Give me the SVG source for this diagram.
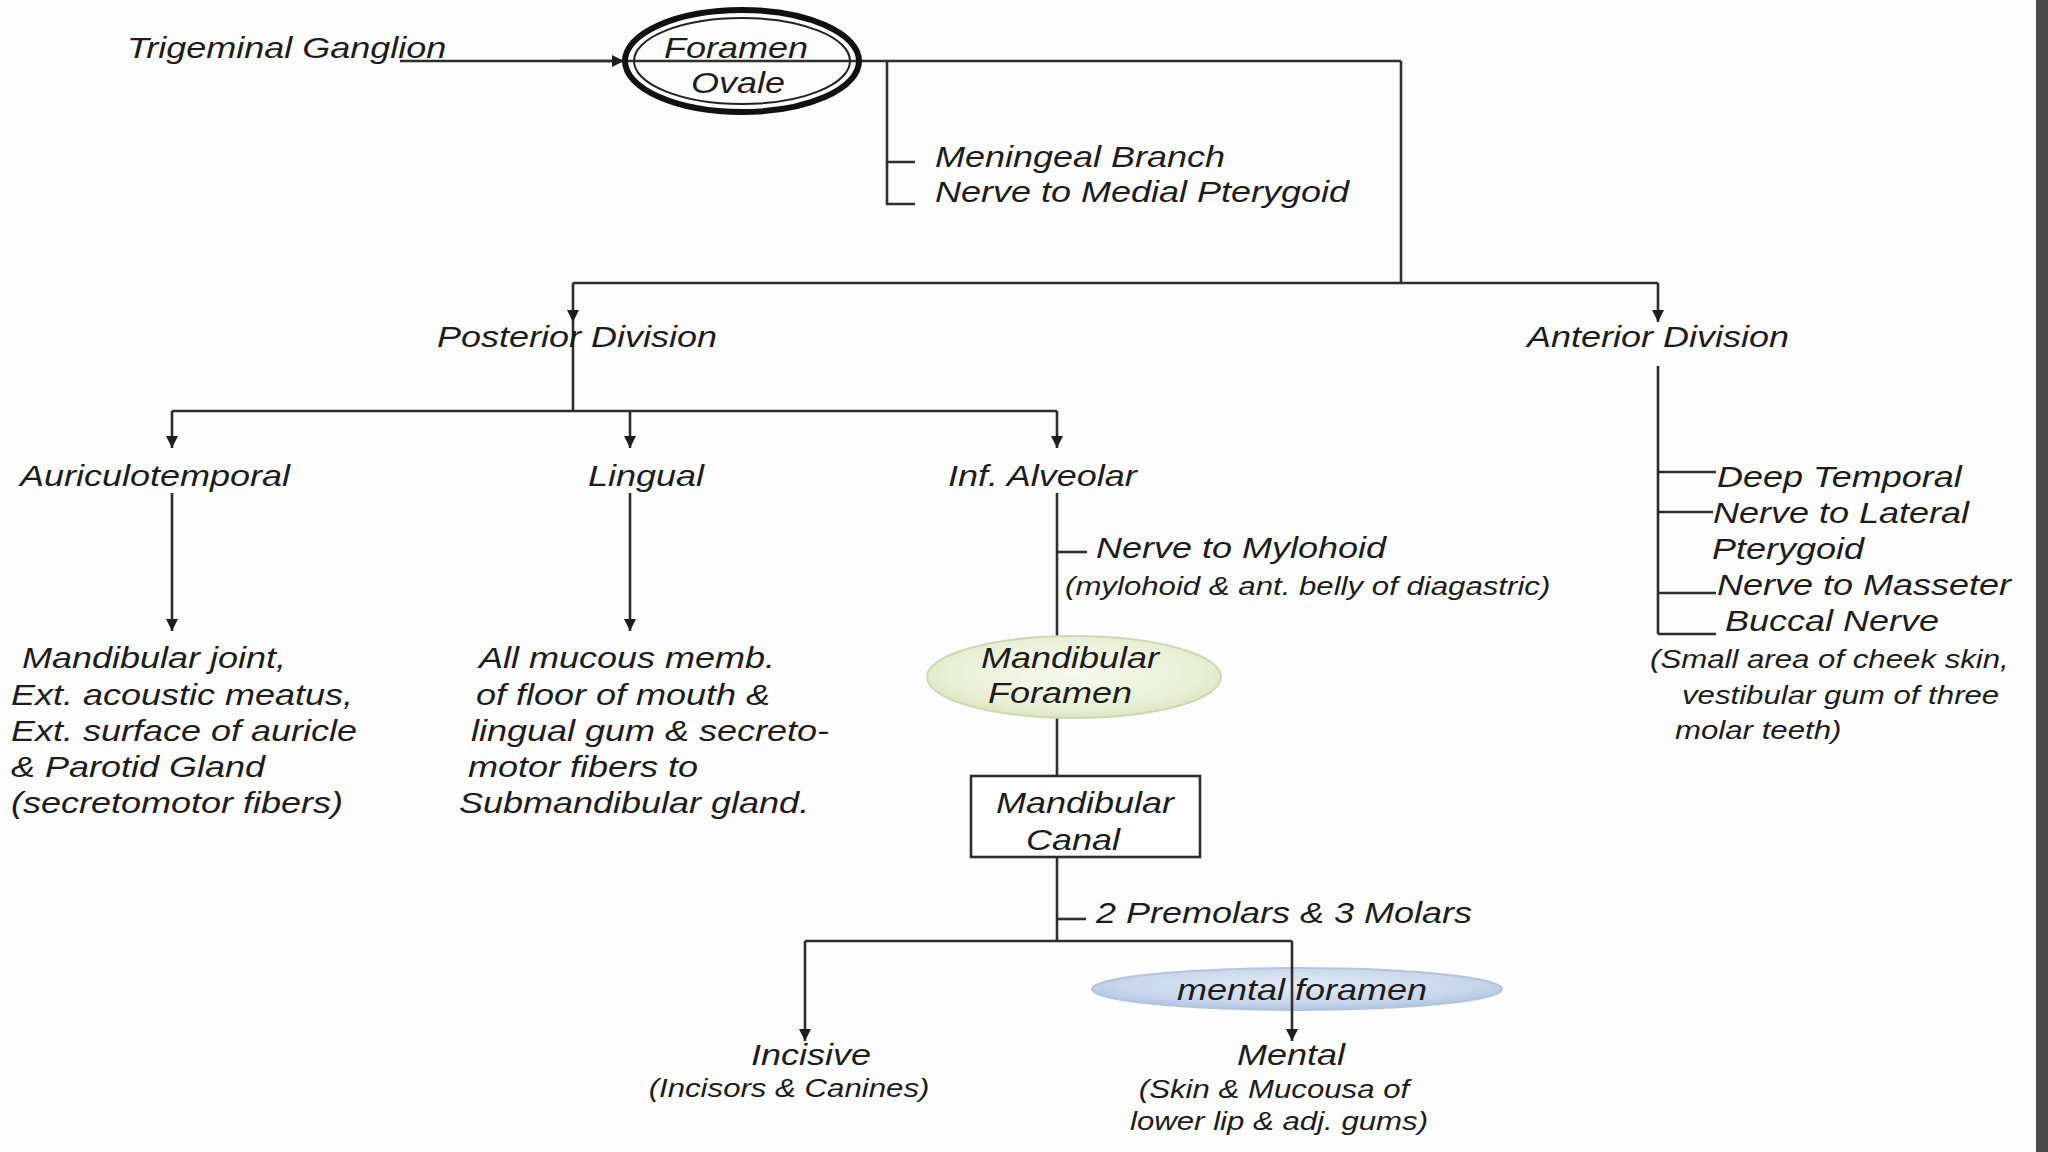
<svg xmlns="http://www.w3.org/2000/svg" width="2048" height="1152" viewBox="0 0 2048 1152">
<style>
text{font-family:"Liberation Sans",Arial,sans-serif;font-style:italic;fill:#1c1c1c}
.t{font-size:30px}
.s{font-size:26px}
.m{text-anchor:middle}
.ln{stroke:#2e2e2e;stroke-width:2.6;fill:none}
</style>
<defs>
<marker id="ah" markerUnits="userSpaceOnUse" markerWidth="14" markerHeight="16" refX="12" refY="7" orient="auto">
<path d="M0,1 L12,7 L0,13 Z" fill="#1e1e1e"/>
</marker>
<radialGradient id="gGreen" cx="50%" cy="45%" r="60%">
<stop offset="0" stop-color="#f7faee"/>
<stop offset="0.7" stop-color="#e9f0d6"/>
<stop offset="1" stop-color="#d5e2b6"/>
</radialGradient>
<radialGradient id="gBlue" cx="50%" cy="40%" r="60%">
<stop offset="0" stop-color="#e2eaf6"/>
<stop offset="0.7" stop-color="#c9d7ec"/>
<stop offset="1" stop-color="#aec3e0"/>
</radialGradient>
</defs>
<rect x="0" y="0" width="2048" height="1152" fill="#fdfdfd"/>
<rect x="2036" y="0" width="12" height="1152" fill="#4a4a4a"/>

<g id="node-mental-foramen">
<ellipse cx="1297" cy="989" rx="205" ry="21" fill="url(#gBlue)" stroke="#b3c4de" stroke-width="2"/>
<text class="t m" transform="translate(1302 1000) scale(1.2 1)">mental foramen</text>
</g>

<g id="connectors">
<line class="ln" x1="400" y1="61" x2="1401" y2="61"/>
<line class="ln" x1="560" y1="61" x2="624" y2="61" marker-end="url(#ah)"/>
<polyline class="ln" points="915,162 887,162 887,61"/>
<polyline class="ln" points="887,162 887,204 915,204"/>
<line class="ln" x1="1401" y1="61" x2="1401" y2="283"/>
<line class="ln" x1="573" y1="283" x2="1658" y2="283"/>
<line class="ln" x1="573" y1="283" x2="573" y2="322" marker-end="url(#ah)"/>
<line class="ln" x1="1658" y1="283" x2="1658" y2="322" marker-end="url(#ah)"/>
<line class="ln" x1="573" y1="322" x2="573" y2="411"/>
<line class="ln" x1="172" y1="411" x2="1057" y2="411"/>
<line class="ln" x1="172" y1="411" x2="172" y2="448" marker-end="url(#ah)"/>
<line class="ln" x1="630" y1="411" x2="630" y2="448" marker-end="url(#ah)"/>
<line class="ln" x1="1057" y1="411" x2="1057" y2="448" marker-end="url(#ah)"/>
<line class="ln" x1="172" y1="493" x2="172" y2="631" marker-end="url(#ah)"/>
<line class="ln" x1="630" y1="493" x2="630" y2="631" marker-end="url(#ah)"/>
<line class="ln" x1="1057" y1="493" x2="1057" y2="636"/>
<line class="ln" x1="1057" y1="552" x2="1087" y2="552"/>
<line class="ln" x1="1057" y1="718" x2="1057" y2="776"/>
<line class="ln" x1="1057" y1="857" x2="1057" y2="941"/>
<line class="ln" x1="1057" y1="919" x2="1086" y2="919"/>
<line class="ln" x1="805" y1="941" x2="1292" y2="941"/>
<line class="ln" x1="805" y1="941" x2="805" y2="1041" marker-end="url(#ah)"/>
<line class="ln" x1="1292" y1="941" x2="1292" y2="1041" marker-end="url(#ah)"/>
<line class="ln" x1="1658" y1="366" x2="1658" y2="634"/>
<line class="ln" x1="1658" y1="472" x2="1716" y2="472"/>
<line class="ln" x1="1658" y1="512" x2="1713" y2="512"/>
<line class="ln" x1="1658" y1="593" x2="1716" y2="593"/>
<line class="ln" x1="1658" y1="634" x2="1716" y2="634"/>
</g>

<g id="node-trigeminal-ganglion">
<text class="t" transform="translate(127 58) scale(1.2 1)">Trigeminal Ganglion</text>
</g>

<g id="node-foramen-ovale">
<ellipse cx="742" cy="61" rx="117" ry="51" fill="none" stroke="#111" stroke-width="6"/>
<ellipse cx="742" cy="61" rx="108" ry="43" fill="none" stroke="#222" stroke-width="2"/>
<text class="t m" transform="translate(736 58) scale(1.2 1)">Foramen</text>
<text class="t m" transform="translate(738 93) scale(1.2 1)">Ovale</text>
</g>

<g id="node-meningeal">
<text class="t" transform="translate(935 167) scale(1.2 1)">Meningeal Branch</text>
<text class="t" transform="translate(935 202) scale(1.2 1)">Nerve to Medial Pterygoid</text>
</g>

<g id="node-posterior-division">
<text class="t" transform="translate(437 347) scale(1.2 1)">Posterior Division</text>
</g>

<g id="node-anterior-division">
<text class="t" transform="translate(1527 347) scale(1.2 1)">Anterior Division</text>
</g>

<g id="node-auriculotemporal">
<text class="t" transform="translate(20 486) scale(1.2 1)">Auriculotemporal</text>
</g>

<g id="node-lingual">
<text class="t" transform="translate(588 486) scale(1.2 1)">Lingual</text>
</g>

<g id="node-inf-alveolar">
<text class="t" transform="translate(948 486) scale(1.2 1)">Inf. Alveolar</text>
</g>

<g id="node-auriculotemporal-supply">
<text class="t" transform="translate(22 668) scale(1.2 1)">Mandibular joint,</text>
<text class="t" transform="translate(11 705) scale(1.2 1)">Ext. acoustic meatus,</text>
<text class="t" transform="translate(11 741) scale(1.2 1)">Ext. surface of auricle</text>
<text class="t" transform="translate(11 777) scale(1.2 1)">&amp; Parotid Gland</text>
<text class="t" transform="translate(11 813) scale(1.2 1)">(secretomotor fibers)</text>
</g>

<g id="node-lingual-supply">
<text class="t" transform="translate(479 668) scale(1.2 1)">All mucous memb.</text>
<text class="t" transform="translate(476 705) scale(1.2 1)">of floor of mouth &amp;</text>
<text class="t" transform="translate(471 741) scale(1.2 1)">lingual gum &amp; secreto-</text>
<text class="t" transform="translate(468 777) scale(1.2 1)">motor fibers to</text>
<text class="t" transform="translate(459 813) scale(1.2 1)">Submandibular gland.</text>
</g>

<g id="node-nerve-to-mylohoid">
<text class="t" transform="translate(1096 558) scale(1.2 1)">Nerve to Mylohoid</text>
<text class="s" transform="translate(1065 595) scale(1.2 1)">(mylohoid &amp; ant. belly of diagastric)</text>
</g>

<g id="node-mandibular-foramen">
<ellipse cx="1074" cy="677" rx="147" ry="41" fill="url(#gGreen)" stroke="#cdd9b4" stroke-width="2"/>
<text class="t m" transform="translate(1070 668) scale(1.2 1)">Mandibular</text>
<text class="t m" transform="translate(1060 703) scale(1.2 1)">Foramen</text>
</g>

<g id="node-mandibular-canal">
<rect x="971" y="776" width="229" height="81" fill="#ffffff" stroke="#2e2e2e" stroke-width="2.6"/>
<text class="t m" transform="translate(1085 813) scale(1.2 1)">Mandibular</text>
<text class="t m" transform="translate(1073 850) scale(1.2 1)">Canal</text>
</g>

<g id="node-premolars-molars">
<text class="t" transform="translate(1096 923) scale(1.2 1)">2 Premolars &amp; 3 Molars</text>
</g>

<g id="node-incisive">
<text class="t m" transform="translate(811 1065) scale(1.2 1)">Incisive</text>
<text class="s m" transform="translate(789 1097) scale(1.2 1)">(Incisors &amp; Canines)</text>
</g>

<g id="node-mental">
<text class="t m" transform="translate(1291 1065) scale(1.2 1)">Mental</text>
<text class="s m" transform="translate(1274 1098) scale(1.2 1)">(Skin &amp; Mucousa of</text>
<text class="s m" transform="translate(1279 1130) scale(1.2 1)">lower lip &amp; adj. gums)</text>
</g>

<g id="node-anterior-branches">
<text class="t" transform="translate(1717 487) scale(1.2 1)">Deep Temporal</text>
<text class="t" transform="translate(1713 523) scale(1.2 1)">Nerve to Lateral</text>
<text class="t" transform="translate(1712 559) scale(1.2 1)">Pterygoid</text>
<text class="t" transform="translate(1717 595) scale(1.2 1)">Nerve to Masseter</text>
<text class="t" transform="translate(1725 631) scale(1.2 1)">Buccal Nerve</text>
<text class="s" transform="translate(1650 668) scale(1.2 1)">(Small area of cheek skin,</text>
<text class="s" transform="translate(1682 704) scale(1.2 1)">vestibular gum of three</text>
<text class="s" transform="translate(1675 739) scale(1.2 1)">molar teeth)</text>
</g>
</svg>
